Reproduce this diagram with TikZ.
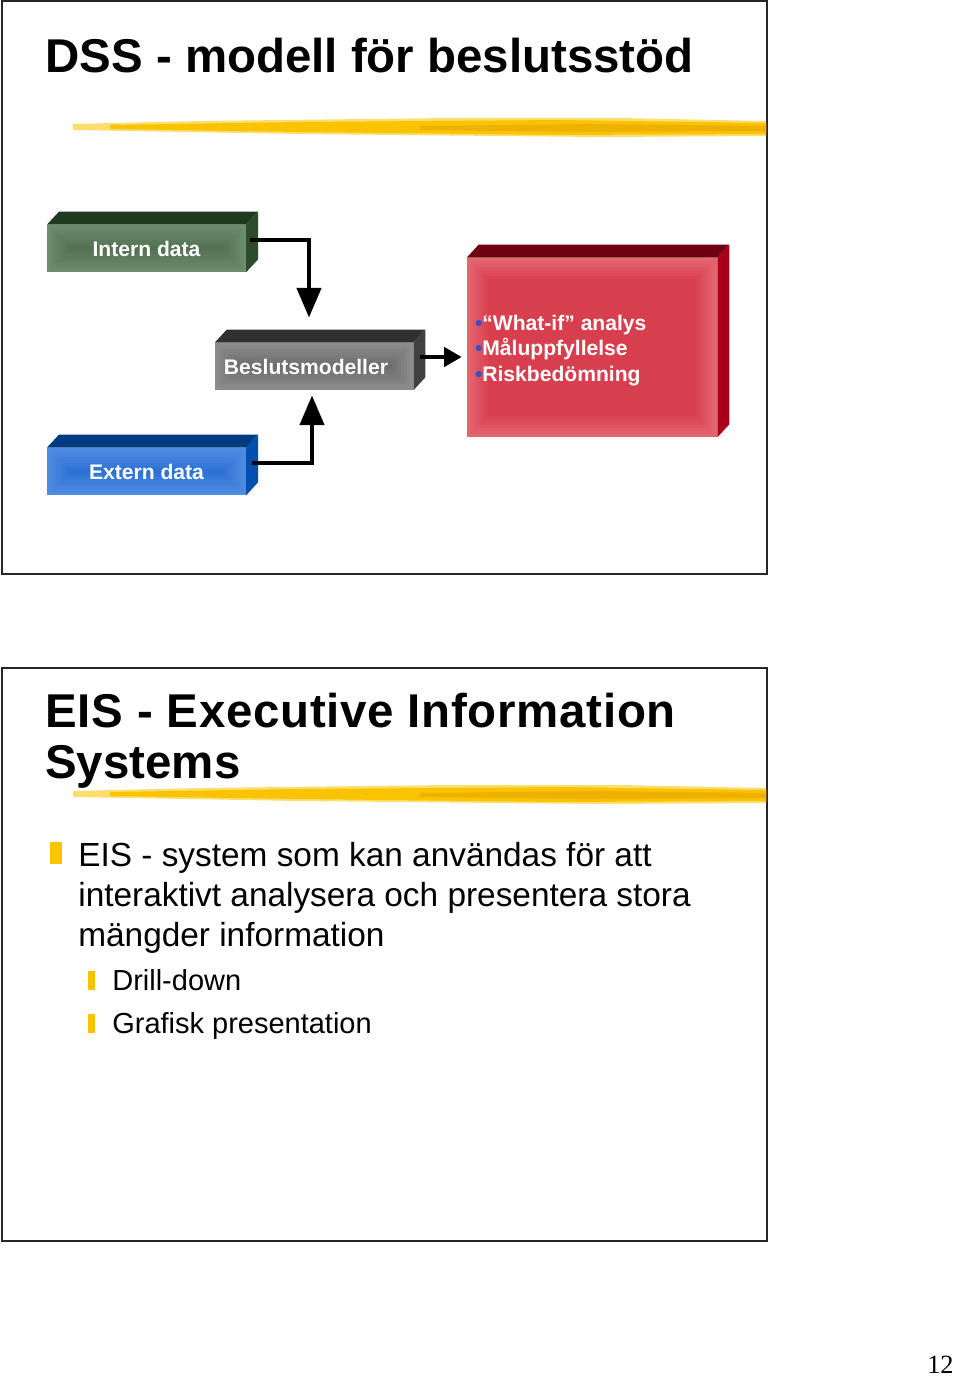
\documentclass[tikz,border=0pt]{standalone}
\usepackage{fontspec}
\setmainfont{Liberation Sans}
\newfontfamily\sidfont{Liberation Serif}
\usepackage{xcolor}
\usetikzlibrary{arrows.meta, calc, positioning}
\definecolor{gronljus}{RGB}{110,140,110}
\definecolor{gronmork}{RGB}{78,108,78}
\definecolor{gronupp}{RGB}{32,58,32}
\definecolor{gronsida}{RGB}{44,76,44}
\definecolor{grajus}{RGB}{140,140,140}
\definecolor{gramork}{RGB}{104,104,104}
\definecolor{graupp}{RGB}{48,48,48}
\definecolor{grasida}{RGB}{64,64,64}
\definecolor{blaljus}{RGB}{78,140,225}
\definecolor{blamork}{RGB}{40,110,210}
\definecolor{blaupp}{RGB}{0,58,128}
\definecolor{blasida}{RGB}{0,80,176}
\definecolor{rodljus}{RGB}{228,100,112}
\definecolor{rodmork}{RGB}{214,56,72}
\definecolor{rodupp}{RGB}{112,0,16}
\definecolor{rodsida}{RGB}{168,0,26}
\definecolor{punktbla}{RGB}{50,80,200}
\definecolor{gul}{RGB}{249,195,0}
\definecolor{gulljus}{RGB}{252,222,110}
\definecolor{gulmork}{RGB}{240,176,0}
% ovansida och hogersida for en kloss
\newcommand{\djup}[3]{%
  \fill[#2] (#1.north west) -- ++(12,-13) -- ($(#1.north east)+(12,-13)$) -- (#1.north east) -- cycle;
  \fill[#3] (#1.north east) -- ++(12,-13) -- ($(#1.south east)+(12,-13)$) -- (#1.south east) -- cycle;}
% penseldrag under rubriken
\newcommand{\pensel}[1]{%
  \fill[gulljus] (73,#1-3) -- (200,#1-6) -- (450,#1-9) -- (620,#1-9) -- (766,#1-6) -- (766,#1+9) -- (600,#1+10) -- (300,#1+7) -- (73,#1+3) -- cycle;
  \fill[gul] (110,#1-2) -- (300,#1-5) -- (560,#1-7) -- (766,#1-4) -- (766,#1+7) -- (560,#1+8) -- (300,#1+5) -- (110,#1+2) -- cycle;
  \fill[gulmork] (420,#1-1) -- (600,#1-3) -- (766,#1-1) -- (766,#1+4) -- (600,#1+5) -- (420,#1+3) -- cycle;}
\newcommand{\blapkt}{\textcolor{punktbla}{\fontsize{12}{12}\selectfont•}}

\begin{document}
\begin{tikzpicture}[x=0.02cm, y=-0.02cm,
    framsida/.style 2 args={fill=#1, path picture={
      \foreach \i in {1,...,7}{
        \pgfmathtruncatemacro\andel{\i*12}
        \fill[#2!\andel!#1] ($(path picture bounding box.south west)+(\i*3,-\i*3)$)
          rectangle ($(path picture bounding box.north east)+(-\i*3,\i*3)$);}}},
    kloss/.style={minimum width=3.97cm, minimum height=0.94cm, inner sep=0pt,
      text=white, font=\bfseries\fontsize{12}{14}\selectfont},
    rubrik/.style={inner sep=0pt, align=left, font=\bfseries\fontsize{27}{29}\selectfont},
    pil/.style={line width=2.8pt, -{Triangle[length=17pt, width=13.6pt]}},
    ram/.style={draw=black!85, line width=0.8pt}]
  \useasboundingbox (0,0) rectangle (960,1377);
  % ramar
  \draw[ram] (2,1) rectangle (767,574);
  \draw[ram] (2,668) rectangle (767,1241);
  % DSS
  \node[rubrik, anchor=base west] (dss) at (45,72) {DSS - modell för beslutsstöd};
  \pensel{127}
  \node[kloss, framsida={gronljus}{gronmork}] (intern) at (146.5,248.5) {Intern data};
  \djup{intern}{gronupp}{gronsida}
  \node[kloss, minimum width=3.96cm, framsida={grajus}{gramork}] (beslut) at (314,366.5) {Beslutsmodeller\kern0.32cm};
  \djup{beslut}{graupp}{grasida}
  \node[kloss, framsida={blaljus}{blamork}] (extern) at (146.5,471.5) {Extern data};
  \djup{extern}{blaupp}{blasida}
  \node[kloss, minimum width=5cm, minimum height=3.58cm, framsida={rodljus}{rodmork}] (analys) at (592,347.5) {};
  \djup{analys}{rodupp}{rodsida}
  \node[anchor=west, inner sep=0pt, align=left, text=white,
    font=\bfseries\fontsize{12}{14.5}\selectfont] (punkter) at ([shift={(8,3)}]analys.west)
    {\blapkt“What-if” analys\\
     \blapkt Måluppfyllelse\\
     \blapkt Riskbedömning};
  % pilar
  \draw[pil] ([shift={(4,-8.5)}]intern.east) -| ([shift={(-5,-25)}]beslut.north);
  \draw[pil] ([shift={(6,-8.5)}]extern.east) -| ([shift={(-2,5)}]beslut.south);
  \draw[line width=2.3pt, -{Triangle[length=10pt, width=10.8pt]}, shorten >=2.8pt]
    ([shift={(7,-9.5)}]beslut.east) coordinate (b3) -- (b3 -| analys.west);
  % EIS
  \node[rubrik, anchor=base west] (eis) at (45,778) {\addfontfeatures{LetterSpace=1.5}EIS - Executive Information\\Systems};
  \pensel{794}
  \fill[gul] (50,842) rectangle (62,864);
  \node[anchor=base west, inner sep=0pt, align=left, font=\fontsize{19}{22.7}\selectfont] (text)
    at (78,946) {EIS - system som kan användas för att\\interaktivt analysera och presentera stora\\mängder information};
  \fill[gul] (88,971) rectangle (95,990);
  \node[anchor=base west, inner sep=0pt, font=\fontsize{16.5}{19}\selectfont] (drill) at (112,990) {Drill-down};
  \fill[gul] (88,1014) rectangle (95,1033);
  \node[anchor=base west, inner sep=0pt, font=\fontsize{16.5}{19}\selectfont] (grafisk) at (112,1033) {Grafisk presentation};
  % sidnummer
  \node[anchor=base east, inner sep=0pt, font=\sidfont\fontsize{15}{15}\selectfont] (sida) at (954,1373) {12};
\end{tikzpicture}
\end{document}
